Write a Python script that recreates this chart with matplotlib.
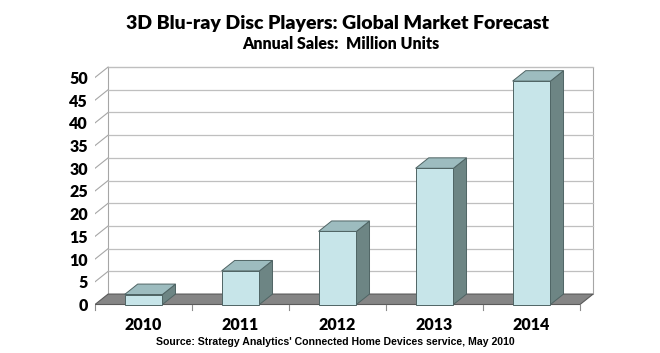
import numpy as np
import matplotlib
matplotlib.use('Agg')
import matplotlib.pyplot as plt
from matplotlib.patches import Polygon

years = ['2010', '2011', '2012', '2013', '2014']
sales = [2.2, 7.4, 16.1, 30.0, 49.2]
yticks = list(range(0, 55, 5))

title = '3D Blu-ray Disc Players: Global Market Forecast'
subtitle = 'Annual Sales:  Million Units'
source = "Source: Strategy Analytics' Connected Home Devices service, May 2010"

# fake 3d depth (in data units)
DX = 0.135
DY = 2.3
bar_w = 0.39

front_c = '#c7e5e9'
top_c = '#9dbcbf'
side_c = '#6d8584'
edge_c = '#4f6464'

fig = plt.figure(figsize=(6.6, 3.53), dpi=100)
ax = fig.add_axes([95 / 660, 43 / 353, 505 / 660, 250 / 353])
ax.set_xlim(0, 5.206)
ax.set_ylim(-1.21, 53.85)
for s in ax.spines.values():
    s.set_visible(False)

# back wall
n = len(years)
ax.add_patch(Polygon([(DX, DY), (n + DX, DY), (n + DX, 50 + DY), (DX, 50 + DY)],
                     closed=True, facecolor='white', edgecolor='#a6a6a6', lw=0.8, zorder=1))
for v in yticks[1:]:
    ax.plot([DX, n + DX], [v + DY, v + DY], color='#bfbfbf', lw=0.9, zorder=2)
    ax.plot([0, DX], [v, v + DY], color='#a6a6a6', lw=0.8, zorder=2)

# floor
ax.add_patch(Polygon([(0, 0), (n, 0), (n + DX, DY), (DX, DY)], closed=True,
                     facecolor='#858585', edgecolor='#5a5a5a', lw=0.8, zorder=3))
for k in range(n + 1):
    ax.plot([k, k], [0, -1.1], color='#8c8c8c', lw=0.8, zorder=3, clip_on=False)

# bars
for i, v in enumerate(sales):
    x0 = i + 0.5 - bar_w / 2
    x1 = x0 + bar_w
    ax.add_patch(Polygon([(x1, 0), (x1 + DX, DY), (x1 + DX, v + DY), (x1, v)],
                         closed=True, facecolor=side_c, edgecolor=edge_c, lw=0.7, zorder=4))
    ax.add_patch(Polygon([(x0, v), (x1, v), (x1 + DX, v + DY), (x0 + DX, v + DY)],
                         closed=True, facecolor=top_c, edgecolor=edge_c, lw=0.7, zorder=4))
    ax.add_patch(Polygon([(x0, 0), (x1, 0), (x1, v), (x0, v)],
                         closed=True, facecolor=front_c, edgecolor=edge_c, lw=0.7, zorder=5))

ax.set_yticks(yticks)
ax.set_yticklabels([str(t) for t in yticks], fontsize=11.5, fontweight='heavy', family='Lato')
ax.tick_params(axis='y', length=0, pad=5)
ax.set_xticks([i + 0.5 for i in range(n)])
ax.set_xticklabels(years, fontsize=11.5, fontweight='heavy', family='Lato')
ax.tick_params(axis='x', length=0, pad=5)

fig.text(337 / 660, 1 - 23 / 353, title, ha='center', va='center',
         fontsize=14, fontweight='heavy', family='Lato')
fig.text(341 / 660, 1 - 44 / 353, subtitle, ha='center', va='center',
         fontsize=11.5, fontweight='heavy', family='Lato')
fig.text(335 / 660, 1 - 342 / 353, source, ha='center', va='center',
         fontsize=7.6, fontweight='bold', family='Liberation Sans')

fig.savefig('out.png', dpi=100)
